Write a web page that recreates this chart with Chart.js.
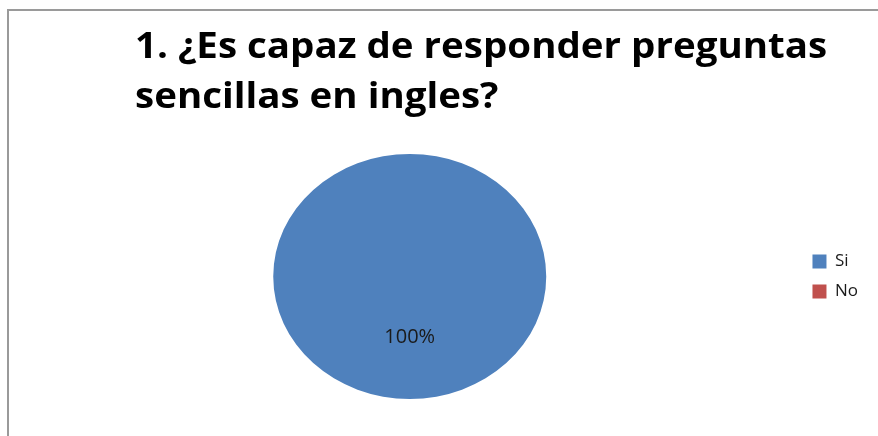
<!DOCTYPE html>
<html>
<head>
<meta charset="utf-8">
<script src="https://cdn.jsdelivr.net/npm/chart.js@4.4.0/dist/chart.umd.min.js"></script>
<style>
  html, body { margin: 0; padding: 0; background: #fff; }
  #wrap { position: relative; width: 878px; height: 436px; overflow: hidden; }
  #frame { position: absolute; left: 7px; top: 9px; width: 1000px; height: 600px;
           border-left: 2px solid #9a9a9a; border-top: 2px solid #9a9a9a; }
  #title { position: absolute; left: 135px; top: 20px; margin: 0;
           font-family: "Open Sans", sans-serif; font-weight: 700; font-size: 35px;
           line-height: 50px; color: #000; white-space: nowrap;
           transform: scaleX(1.1); transform-origin: 0 0; }
  #myChart { position: absolute; left: 0; top: 0; }
</style>
</head>
<body>
<div id="wrap">
  <div id="frame"></div>
  <canvas id="myChart" width="878" height="436"></canvas>
  <h1 id="title">1. ¿Es capaz de responder preguntas<br>sencillas en ingles?</h1>
</div>
<script>
const categories = ['Si', 'No'];
const values = [100, 0];
const sliceColors = ['#4F81BD', '#C0504D'];

// stretch the pie sideways a little, like the original ellipse
const stretchX = 136.5 / 122.5;

const ellipsePlugin = {
    id: 'ellipse',
    beforeDatasetsDraw(chart) {
        const a = chart.chartArea;
        const cx = (a.left + a.right) / 2;
        const cy = (a.top + a.bottom) / 2;
        const ctx = chart.ctx;
        ctx.save();
        ctx.translate(cx, cy);
        ctx.scale(stretchX, 1);
        ctx.translate(-cx, -cy);
    },
    afterDatasetsDraw(chart) {
        chart.ctx.restore();
    }
};

const percentPlugin = {
    id: 'percentLabels',
    afterDraw(chart) {
        const ctx = chart.ctx;
        const data = chart.data.datasets[0].data;
        const total = data.reduce((s, v) => s + v, 0);
        const a = chart.chartArea;
        const cx = (a.left + a.right) / 2;
        chart.getDatasetMeta(0).data.forEach((arc, i) => {
            if (!data[i]) return;
            const p = arc.getCenterPoint();
            const x = cx + (p.x - cx) * stretchX;
            ctx.save();
            ctx.font = '20px "Open Sans", sans-serif';
            ctx.fillStyle = '#1a1a1a';
            ctx.textAlign = 'center';
            ctx.textBaseline = 'middle';
            ctx.fillText(Math.round(data[i] / total * 100) + '%', x, p.y);
            ctx.restore();
        });
    }
};

function CreateChart() {
    const ctx = document.getElementById('myChart');
    new Chart(ctx, {
        type: 'pie',
        data: {
            labels: categories,
            datasets: [{
                data: values,
                backgroundColor: sliceColors,
                borderWidth: 0
            }]
        },
        options: {
            responsive: false,
            animation: false,
            layout: {
                padding: { top: 154, bottom: 37, left: 20, right: 10 }
            },
            plugins: {
                legend: {
                    position: 'right',
                    labels: {
                        boxWidth: 14,
                        boxHeight: 14,
                        padding: 13,
                        color: '#1a1a1a',
                        font: { family: '"Open Sans", sans-serif', size: 17 }
                    }
                },
                tooltip: { enabled: false }
            }
        },
        plugins: [ellipsePlugin, percentPlugin]
    });
}

CreateChart();
</script>
</body>
</html>
